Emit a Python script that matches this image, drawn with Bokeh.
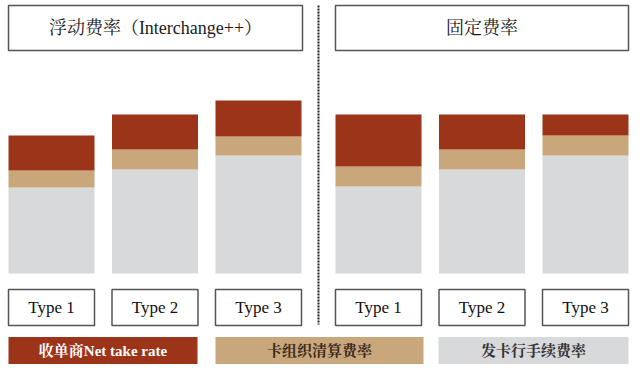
from bokeh.plotting import figure
from bokeh.models import ColumnDataSource, Range1d
from bokeh.core.properties import value
from bokeh.embed import file_html
from bokeh.resources import INLINE

# ---- data (arbitrary rate units) ----
group_titles = ["浮动费率（Interchange++）", "固定费率"]
types = ["Type 1", "Type 2", "Type 3", "Type 1", "Type 2", "Type 3"]
issuer_fee = [86, 104, 118, 87, 104, 118]      # 发卡行手续费率 (gray)
scheme_fee = [17, 20, 19, 20, 20, 20]          # 卡组织清算费率 (tan)
acquirer_take = [35, 35, 36, 52, 35, 21]       # 收单商Net take rate (red)
legend_labels = ["收单商Net take rate", "卡组织清算费率", "发卡行手续费率"]

RED = "#9b3419"
TAN = "#caa77b"
GRAY = "#d8d9db"
BOX_LINE = "#555555"
SERIF = "'Liberation Serif', 'Noto Serif CJK SC', 'Noto Sans CJK SC', serif"

# ---- layout ----
W, H = 632, 364
bar_w = 86
step = 103.5
group_x0 = [8, 335]
xs = [group_x0[g] + i * step + bar_w / 2 for g in range(2) for i in range(3)]

p = figure(width=W, height=H, output_backend="svg", toolbar_location=None,
           x_range=Range1d(0, W), y_range=Range1d(273 - H, 273),
           x_axis_location=None, y_axis_location=None,
           min_border=0, min_border_left=0, min_border_right=0,
           min_border_top=0, min_border_bottom=0)
p.grid.visible = False
p.outline_line_color = None
p.background_fill_color = "white"
p.border_fill_color = "white"

src = ColumnDataSource(dict(x=xs, gray=issuer_fee, tan=scheme_fee, red=acquirer_take))
p.vbar_stack(["gray", "tan", "red"], x="x", width=bar_w, source=src,
             color=[GRAY, TAN, RED], line_color=None)

# header boxes
hx = [(8 + 302) / 2, (335 + 628) / 2]
hw = [294, 293]
p.rect(x=hx, y=[245.5, 245.5], width=hw, height=[45, 45], fill_color="white",
       line_color=BOX_LINE, line_width=1.5)
p.text(x=hx, y=[245.5, 245.5], text=group_titles, text_align="center",
       text_baseline="middle", text_font=value(SERIF), text_font_size="18px",
       text_color="#1a1a1a")

# type boxes
p.rect(x=xs, y=[-34] * 6, width=bar_w, height=36, fill_color="white",
       line_color=BOX_LINE, line_width=1.5)
p.text(x=xs, y=[-34] * 6, text=types, text_align="center", text_baseline="middle",
       text_font=value(SERIF), text_font_size="17px", text_color="#111111")

# divider
p.segment(x0=[318], y0=[268], x1=[318], y1=[-51], line_color="#222222",
          line_width=2, line_dash="2 1")

# legend bars
lx = [(8 + 197) / 2, (215 + 423) / 2, (438 + 628) / 2]
lw = [189, 208, 190]
p.rect(x=lx, y=[-77.5] * 3, width=lw, height=28, fill_color=[RED, TAN, GRAY],
       line_color=None)
p.text(x=lx, y=[-77.5] * 3, text=legend_labels, text_align="center",
       text_baseline="middle", text_font=value(SERIF), text_font_size="15px",
       text_font_style="bold", text_color=["#ffffff", "#3a2a1c", "#333333"])

open("out.html", "w").write(file_html(p, INLINE))
